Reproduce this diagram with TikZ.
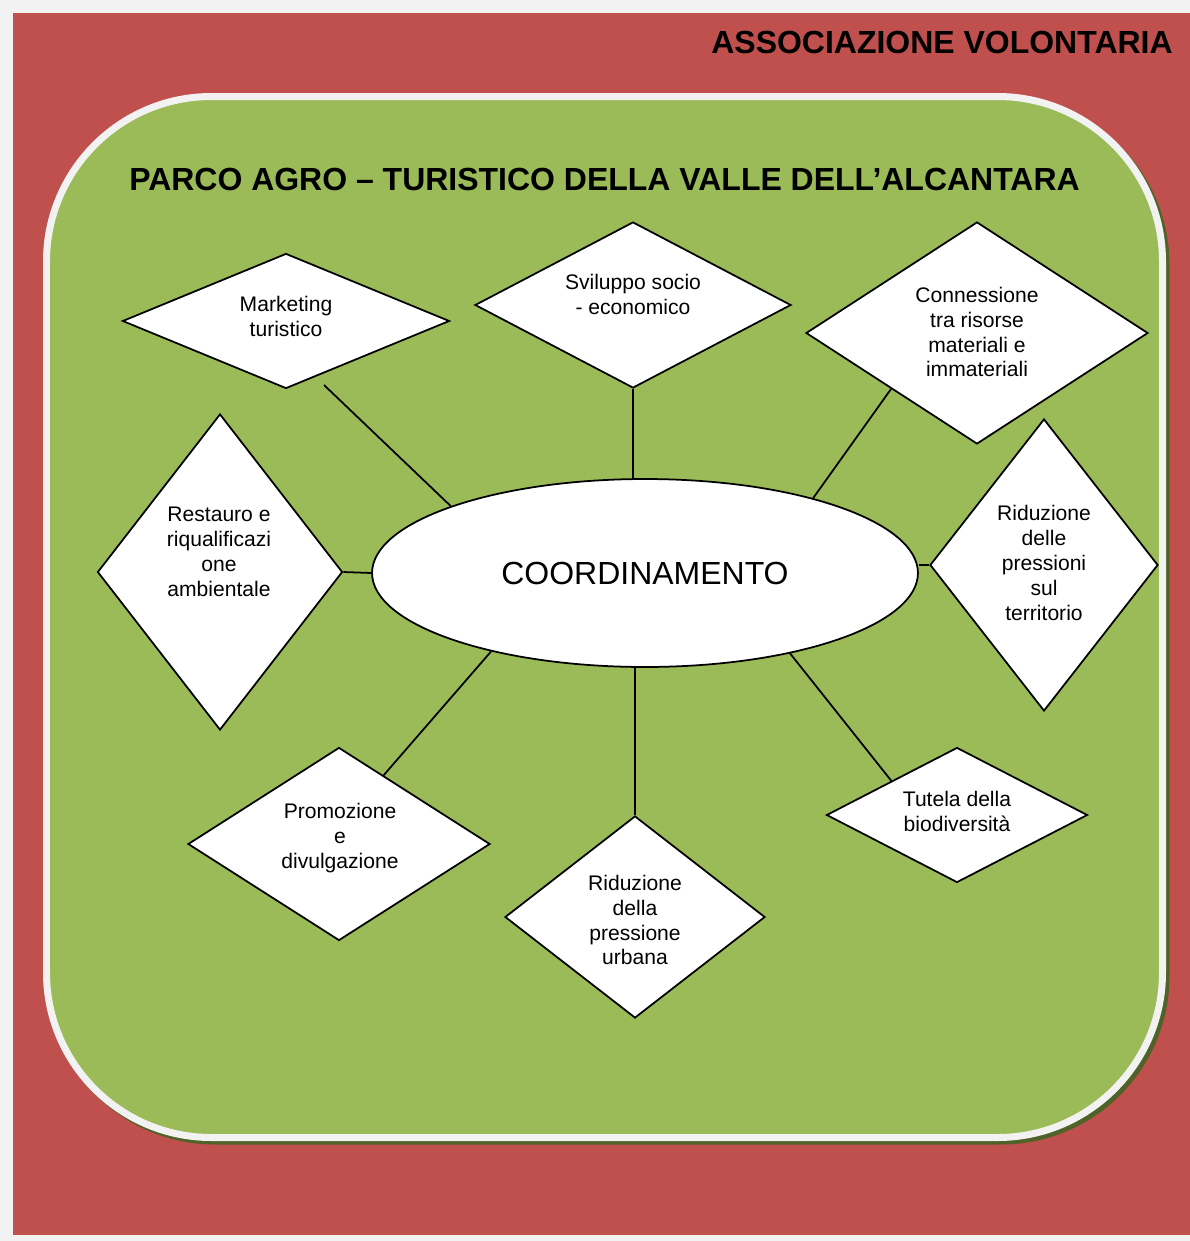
\documentclass[tikz,border=0pt]{standalone}
\usepackage{fontspec}
\setmainfont{Liberation Sans}
\usepackage{xcolor}
\usepackage{tikz}
\usetikzlibrary{shapes.geometric}

\definecolor{assocred}{HTML}{C0504D}
\definecolor{parkgreen}{HTML}{9BBB59}
\definecolor{shadowgreen}{HTML}{4F6228}
\definecolor{framegray}{HTML}{F2F2F2}

\tikzset{
  area/.style={diamond, draw, fill=white, line width=1pt, inner sep=0pt},
  areatext/.style={align=center, inner sep=0pt, font=\fontsize{12}{14.2}\selectfont},
  heading/.style={inner sep=0pt, font=\fontsize{18.2}{22}\selectfont\bfseries},
  link/.style={line width=1pt}
}

\begin{document}
\begin{tikzpicture}[x=0.02cm, y=-0.02cm]
        % Frames
        \fill[framegray] (0,0) rectangle (1190,1241);
        \fill[assocred] (13,13) rectangle (1190,1235);
        \draw[shadowgreen, fill=shadowgreen, line width=0.14cm, rounded corners=3.3cm]
            (50,100) rectangle (1166,1141);
        \draw[framegray, fill=parkgreen, line width=0.14cm, rounded corners=3.3cm]
            (46.5,96.5) rectangle (1162.5,1137.5);

        % Titles
        \node[heading, anchor=base east] (assoc) at (1173,53) {ASSOCIAZIONE VOLONTARIA};
        \node[heading, anchor=base] (park) at (604.5,190) {PARCO AGRO – TURISTICO DELLA VALLE DELL’ALCANTARA};

        % Centre
        \node[ellipse, draw, fill=white, line width=1pt, minimum width=10.92cm, minimum height=3.76cm,
            font=\fontsize{18.2}{22}\selectfont] (coord) at (645,573) {COORDINAMENTO};

        % Diamonds
        \foreach \name/\x/\y/\w/\h in {mkt/286/321/327/135, svil/633/305/316/166,
            conn/977/333/342/222, rest/220/572/245/316, rid/1044/565/228/292,
            prom/339/844/302/193, urb/635/917/260/202, tut/957/815/261/135}
            \node[area, minimum width=\w*0.02cm, minimum height=\h*0.02cm] (\name) at (\x,\y) {};

        % Labels
        \node[areatext] (mkt-t) at (286,316) {Marketing\\turistico};
        \node[areatext] (svil-t) at (633,294) {Sviluppo socio\\- economico};
        \node[areatext] (conn-t) at (977,332) {Connessione\\tra risorse\\materiali e\\immateriali};
        \node[areatext] (rest-t) at (219,552) {Restauro e\\riqualificazi\\one\\ambientale};
        \node[areatext] (rid-t) at (1044,563) {Riduzione\\delle\\pressioni\\sul\\territorio};
        \node[areatext] (prom-t) at (340,838) {Promozione\\e\\divulgazione};
        \node[areatext] (urb-t) at (635,920) {Riduzione\\della\\pressione\\urbana};
        \node[areatext] (tut-t) at (957,811) {Tutela della\\biodiversità};

        % Links
        \coordinate (mkt-end) at (324,385);
        \draw[link] (mkt-end) -- (coord.161);
        \draw[link] (svil.south) -- (svil.south |- coord.north);
        \draw[link] (conn.south west) -- (coord.24);
        \draw[link] (rest.east) -- (coord.west);
        \draw[link] (rid.west) -- (rid.west -| coord.east);
        \draw[link] (prom.57) -- (coord.207);
        \draw[link] (urb.north) -- (urb.north |- coord.south);
        \draw[link] (tut.north west) -- (coord.-29);
    \end{tikzpicture}
\end{document}
